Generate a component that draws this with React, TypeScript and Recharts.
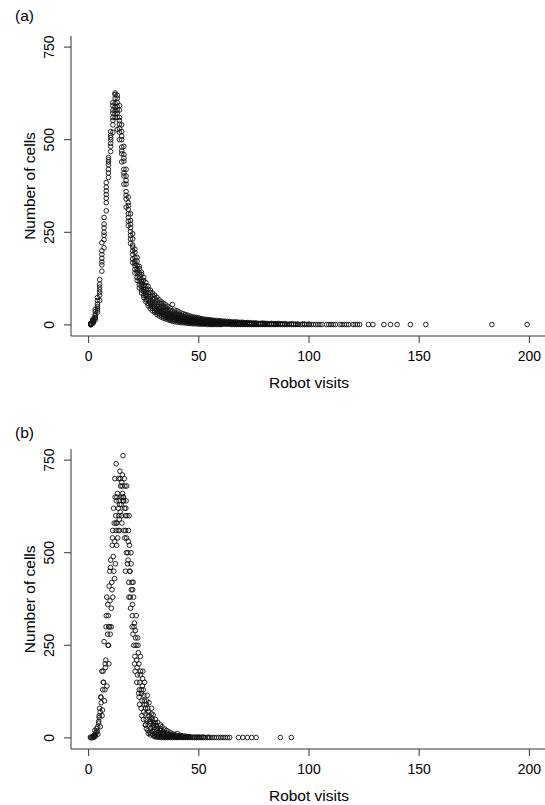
import React from 'react';
import { ScatterChart, Scatter, XAxis, YAxis } from 'recharts';

// tick labels
const visitTicks = [0, 50, 100, 150, 200];
const cellTicks = [0, 250, 500, 750];

// panel (a): robot visits and the cell counts seen at each visit value
const visitsA = [
  1, 2, 3, 4, 5, 6, 7, 8, 9, 10, 11, 12, 13, 14, 15, 16, 17, 18, 19, 20,
  21, 22, 23, 24, 25, 26, 27, 28, 29, 30, 31, 32, 33, 34, 35, 36, 37, 38, 39, 40,
  41, 42, 43, 44, 45, 46, 47, 48, 49, 50, 51, 52, 53, 54, 55, 56, 57, 58, 59, 60,
  61, 62, 63, 64, 65, 66, 67, 68, 69, 70, 71, 72, 73, 74, 75, 76, 77, 78, 79, 80,
  81, 82, 83, 84, 85, 86, 87, 88, 89, 90, 91, 92, 93, 94, 95, 96, 97, 98, 99, 100,
  101, 102, 103, 104, 105, 106, 108, 109, 110, 111, 112, 114, 115, 116, 117, 118, 120, 121, 122, 123,
  127, 129, 134, 137, 140, 146, 153, 183, 199,
];
const cellsA = [
  [0, 1, 2, 3, 5, 2, 4], [4, 7, 10, 13, 8, 16, 11], [14, 20, 28, 36, 24, 42, 18], [34, 45, 56, 66, 50, 74, 40],
  [66, 80, 95, 110, 122, 88, 102], [145, 162, 180, 200, 222, 190, 170], [208, 230, 250, 272, 290, 242, 262],
  [308, 330, 352, 372, 384, 342, 362], [398, 420, 440, 452, 432, 410, 446], [468, 482, 500, 512, 522, 490, 506],
  [520, 540, 560, 580, 600, 552, 572, 592], [560, 578, 598, 612, 622, 588, 570, 626],
  [528, 560, 580, 600, 612, 620, 572, 590], [500, 520, 542, 560, 580, 592, 530, 552],
  [440, 462, 480, 500, 522, 540, 470, 510], [380, 402, 420, 442, 460, 482, 410, 450],
  [318, 340, 360, 380, 402, 420, 350, 390], [268, 290, 312, 330, 345, 300, 322, 280],
  [220, 242, 262, 282, 252, 232, 272, 300], [178, 200, 216, 232, 190, 246, 210, 168],
  [150, 166, 182, 196, 172, 204, 160, 140], [128, 146, 160, 172, 152, 182, 140, 120],
  [108, 126, 140, 152, 132, 158, 118, 100], [94, 110, 122, 136, 116, 142, 104, 86],
  [80, 96, 106, 120, 100, 128, 90, 74], [68, 82, 96, 106, 88, 114, 78, 62],
  [58, 72, 86, 96, 78, 104, 66, 52], [50, 64, 76, 88, 70, 94, 58, 44],
  [44, 56, 68, 80, 62, 86, 50, 38], [38, 50, 60, 72, 56, 80, 44, 34],
  [34, 44, 54, 66, 50, 74, 40, 28], [30, 40, 50, 60, 44, 68, 36, 24],
  [26, 36, 46, 56, 40, 62, 32, 21], [23, 32, 42, 50, 36, 58, 28, 18],
  [20, 29, 38, 46, 32, 54, 25, 16], [18, 26, 34, 42, 29, 50, 22, 14],
  [16, 24, 31, 39, 27, 46, 20, 12], [14, 22, 29, 36, 24, 55, 18, 10],
  [13, 20, 27, 33, 22, 40, 16, 9], [12, 18, 25, 30, 20, 38, 15, 8],
  [11, 17, 23, 28, 19, 35, 14, 7], [10, 16, 21, 26, 17, 32, 13, 6],
  [9, 15, 20, 24, 16, 30, 12, 6], [8, 14, 18, 22, 15, 28, 11, 5],
  [8, 13, 17, 21, 14, 26, 10, 4], [7, 12, 16, 20, 13, 24, 9, 4],
  [7, 11, 15, 18, 12, 22, 8, 3], [6, 10, 14, 17, 11, 21, 8, 3],
  [6, 9, 13, 16, 10, 20, 7, 3], [5, 9, 12, 15, 10, 19, 7, 2],
  [5, 8, 11, 14, 9, 17, 6, 2], [4, 8, 11, 13, 9, 16, 6, 2],
  [4, 7, 10, 12, 8, 15, 5, 2], [4, 7, 9, 12, 8, 14, 5, 1],
  [3, 6, 9, 11, 7, 14, 5, 1], [3, 6, 8, 10, 7, 13, 4, 1],
  [3, 5, 8, 10, 6, 12, 4, 1], [3, 5, 7, 9, 6, 12, 4, 1],
  [2, 5, 7, 9, 6, 11, 3, 1], [2, 4, 6, 8, 5, 11, 3, 1],
  [2, 4, 6, 8, 5, 10], [2, 4, 6, 7, 5, 10], [2, 4, 5, 7, 4, 9], [2, 3, 5, 7, 4, 9],
  [1, 3, 5, 6, 4, 8], [1, 3, 5, 6, 4, 8], [1, 3, 4, 6, 3, 8], [1, 3, 4, 5, 3, 7],
  [1, 2, 4, 5, 3, 7], [1, 2, 4, 5, 3, 7],
  [1, 2, 3, 5, 6], [1, 2, 3, 5, 6], [1, 2, 3, 4, 6], [1, 2, 3, 4, 5], [1, 2, 3, 4, 5],
  [1, 2, 3, 4, 5], [1, 2, 3, 4], [1, 2, 3, 4], [1, 2, 3, 5], [1, 2, 3, 4],
  [1, 2, 4], [1, 2, 3], [1, 3, 4], [1, 2, 3], [1, 2, 3], [1, 2, 4], [1, 2, 3], [1, 3], [1, 2, 3], [1, 2],
  [1, 2], [1, 3], [1, 2], [1, 2], [1, 2], [1], [1, 2], [1, 2], [1], [1, 2],
  [1], [1], [1], [1], [1], [1], [1], [1], [1], [1], [1], [1], [1], [1], [1], [1], [1], [1], [1], [1],
  [1], [1], [1], [1], [1], [1], [1], [1], [1],
];

// panel (b): visits are not whole numbers here, so each point has its own x
const visitsB = [
  [1.0, 1.4, 0.8], [2.1, 1.7, 2.5, 2.3], [3.0, 2.6, 3.4, 3.2, 2.8], [4.2, 3.7, 4.5, 3.9, 4.8, 4.1],
  [5.3, 4.8, 5.0, 5.6, 4.6, 5.2], [6.1, 5.7, 6.4, 6.0, 5.5, 6.6, 6.3], [7.2, 6.8, 7.5, 7.0, 6.6, 7.4, 7.9],
  [8.3, 7.8, 8.6, 8.0, 8.8, 7.6, 8.2, 9.1], [9.0, 9.5, 8.7, 9.3, 9.8, 8.9, 9.6, 9.2],
  [10.2, 9.7, 10.5, 10.0, 10.8, 10.3, 9.9, 10.6], [11.0, 11.4, 10.7, 11.6, 11.2, 10.9, 11.8, 11.3],
  [12.1, 11.8, 12.5, 12.3, 12.0, 12.7, 12.4, 11.9, 12.6], [13.2, 12.9, 13.5, 13.1, 13.6, 12.8, 13.4, 12.5, 13.7],
  [14.0, 14.3, 13.8, 14.5, 14.2, 14.7, 13.9, 14.4, 14.1], [15.1, 14.8, 15.4, 15.0, 15.3, 15.6, 14.9, 15.2, 15.7],
  [16.0, 16.3, 15.8, 16.5, 15.6, 16.2, 16.7, 15.9, 16.4], [17.1, 16.8, 17.4, 17.0, 17.3, 16.9, 17.6, 17.2, 16.7],
  [18.2, 17.9, 18.5, 18.1, 18.4, 17.8, 18.6, 18.3, 18.0], [19.0, 19.4, 18.8, 19.2, 19.6, 18.9, 19.3, 19.7],
  [20.1, 19.8, 20.4, 20.2, 20.6, 19.9, 20.5, 20.0], [21.0, 21.3, 20.8, 21.5, 21.2, 20.9, 21.6, 21.1],
  [22.1, 21.8, 22.4, 22.0, 22.6, 21.9, 22.3, 22.7], [23.0, 23.4, 22.8, 23.2, 23.6, 22.9, 23.5, 23.1],
  [24.2, 23.9, 24.5, 24.0, 24.4, 23.8, 24.6, 24.1], [25.0, 25.3, 24.8, 25.5, 25.1, 24.9, 25.4, 25.7],
  [26.1, 25.8, 26.4, 26.0, 26.3, 25.9, 26.6, 26.2], [27.0, 27.3, 26.8, 27.5, 27.2, 26.9, 27.4, 27.1],
  [28.2, 27.9, 28.5, 28.0, 28.4, 27.8, 28.6, 28.1], [29.0, 29.4, 28.8, 29.2, 29.5, 28.9, 29.3, 29.6],
  [30.1, 29.8, 30.4, 30.0, 30.5, 29.9, 30.3, 30.2], [31.0, 31.3, 30.8, 31.5, 31.2, 30.9, 31.4, 31.1],
  [32.2, 31.9, 32.5, 32.0, 32.4, 31.8, 32.6, 32.1], [33.0, 33.4, 32.8, 33.2, 33.5, 32.9, 33.3, 33.1],
  [34.1, 33.8, 34.4, 34.0, 34.3, 33.9, 34.5, 34.2], [35.0, 35.3, 34.8, 35.2, 35.5, 34.9, 35.4],
  [36.1, 35.8, 36.4, 36.0, 36.3, 35.9, 36.5], [37.0, 37.3, 36.8, 37.2, 37.5, 36.9, 37.4],
  [38.1, 37.8, 38.4, 38.0, 38.3, 38.5], [39.0, 39.3, 38.8, 39.2, 39.5, 39.4], [40.1, 39.8, 40.4, 40.0, 40.3, 40.2],
  [41.0, 41.3, 40.8, 41.2, 41.5], [42.1, 41.8, 42.4, 42.0, 42.3], [43.0, 43.3, 42.8, 43.4], [44.0, 44.3, 43.8, 44.4],
  [45.0, 45.3, 44.8], [46.0, 46.3, 45.8], [47.0, 47.3], [48.0, 48.4], [49.0, 49.4], [50.0, 50.3],
  [51.0, 51.4], [52.0, 52.3], [53], [54.0, 54.3], [55], [56], [57], [58], [59], [60],
  [61], [62], [63], [64], [68], [70], [72], [74], [76], [87], [92],
];
const cellsB = [
  [0, 1, 2], [1, 3, 5, 2], [4, 8, 15, 10, 20], [10, 25, 40, 18, 60, 30],
  [30, 55, 80, 110, 45, 70], [60, 95, 130, 180, 110, 150, 75], [100, 150, 200, 260, 180, 130, 300],
  [140, 210, 280, 330, 250, 190, 380, 300], [250, 300, 360, 410, 280, 330, 450, 200],
  [300, 370, 420, 480, 540, 350, 460, 400], [380, 450, 520, 580, 490, 560, 430, 620],
  [470, 530, 560, 600, 650, 520, 580, 700, 640], [540, 580, 620, 660, 700, 650, 560, 740, 600],
  [560, 610, 640, 680, 720, 650, 590, 700, 630], [580, 630, 660, 690, 710, 650, 600, 680, 640],
  [560, 620, 650, 680, 762, 700, 600, 640, 540], [500, 560, 600, 640, 680, 620, 470, 540, 450],
  [420, 480, 520, 560, 600, 500, 450, 380, 530], [350, 400, 450, 500, 420, 380, 470, 300],
  [280, 330, 380, 420, 300, 360, 250, 400], [220, 270, 310, 250, 290, 200, 330, 180],
  [170, 210, 250, 190, 230, 150, 270, 120], [130, 170, 200, 150, 180, 110, 220, 90],
  [100, 130, 160, 120, 140, 80, 180, 60], [70, 100, 130, 90, 115, 50, 150, 35],
  [50, 80, 100, 65, 90, 35, 115, 25], [35, 60, 80, 50, 70, 20, 95, 12],
  [25, 45, 65, 40, 55, 15, 80, 8], [18, 35, 50, 28, 42, 10, 62, 5],
  [12, 28, 40, 22, 34, 6, 50, 3], [9, 20, 32, 16, 26, 4, 42, 2],
  [6, 15, 25, 12, 20, 3, 35, 2], [5, 12, 20, 9, 16, 2, 30, 1],
  [4, 9, 16, 7, 12, 2, 24, 1], [3, 7, 13, 5, 10, 1, 20],
  [2, 6, 10, 4, 8, 1, 16], [2, 5, 8, 3, 6, 1, 13],
  [1, 4, 7, 3, 5, 10], [1, 3, 6, 2, 4, 8], [1, 3, 5, 2, 4, 12],
  [1, 2, 4, 3, 7], [1, 2, 4, 3, 6], [1, 2, 3, 5], [1, 2, 3, 4],
  [1, 2, 3], [1, 2, 3], [1, 2], [1, 2], [1, 2], [1, 2],
  [1, 2], [1, 2], [1], [1, 2], [1], [1], [1], [1], [1], [1],
  [1], [1], [1], [1], [1], [1], [1], [1], [1], [1], [1],
];

const pointsA = visitsA.flatMap((v, i) => cellsA[i].map((c) => ({ visits: v, cells: c })));
const pointsB = visitsB.flatMap((row, i) => row.map((v, j) => ({ visits: v, cells: cellsB[i][j] })));

const FONT = '"Liberation Sans", Arial, Helvetica, sans-serif';
const INK = '#111';
const FRAME = '#333';

const Ring = (props: any) => (
  <circle cx={props.cx} cy={props.cy} r={2.3} fill="none" stroke={INK} strokeWidth={0.9} />
);

const YTick = (props: any) => {
  const { x, y, payload } = props;
  const tx = x - 8;
  return (
    <text x={tx} y={y} transform={`rotate(-90, ${tx}, ${y})`} textAnchor="middle"
      fontSize={14} fontFamily={FONT} fill="#000">
      {payload.value}
    </text>
  );
};

// plot frame = bottom axis line + an empty top axis + left axis line;
// the right side of the box runs past the edge of the page, as in the original
const Panel = ({ data, height, bottom }: { data: any[]; height: number; bottom: number }) => (
  <ScatterChart width={600} height={height} margin={{ top: 36, right: 53, bottom, left: 51 }}>
    <XAxis dataKey="visits" type="number" domain={[-8, 208]} ticks={visitTicks} allowDataOverflow
      height={30} axisLine={{ stroke: FRAME }} tickSize={7} tickMargin={8} tickLine={{ stroke: FRAME }}
      tick={{ fontSize: 14, fill: '#000', fontFamily: FONT }} interval={0} />
    <XAxis xAxisId="top" orientation="top" dataKey="visits" type="number" domain={[-8, 208]}
      allowDataOverflow height={0} axisLine={{ stroke: FRAME }} tick={false} tickLine={false} />
    <YAxis dataKey="cells" type="number" domain={[-30, 780]} ticks={cellTicks} allowDataOverflow
      width={20} axisLine={{ stroke: FRAME }} tickSize={7} tickMargin={2} tickLine={{ stroke: FRAME }}
      tick={<YTick />} interval={0} />
    <Scatter data={data} shape={Ring} isAnimationActive={false} />
  </ScatterChart>
);

export default function App() {
  const label = { fontFamily: FONT, fontSize: 15.5, fill: '#000' };
  return (
    <div style={{ position: 'absolute', left: 0, top: 0, width: 545, height: 805, overflow: 'hidden', background: '#fff' }}>
      <div style={{ position: 'absolute', left: 0, top: 0 }}>
        <Panel data={pointsA} height={400} bottom={34} />
      </div>
      <div style={{ position: 'absolute', left: 0, top: 413 }}>
        <Panel data={pointsB} height={392} bottom={26} />
      </div>
      <svg width={545} height={805} style={{ position: 'absolute', left: 0, top: 0, pointerEvents: 'none' }}>
        <text x={15} y={20.7} {...label}>(a)</text>
        <text x={309} y={387.5} textAnchor="middle" {...label}>Robot visits</text>
        <text x={35} y={186} textAnchor="middle" transform="rotate(-90, 35, 186)" {...label}>Number of cells</text>
        <text x={15} y={438.4} {...label}>(b)</text>
        <text x={309} y={800.8} textAnchor="middle" {...label}>Robot visits</text>
        <text x={35} y={599.3} textAnchor="middle" transform="rotate(-90, 35, 599.3)" {...label}>Number of cells</text>
      </svg>
    </div>
  );
}
